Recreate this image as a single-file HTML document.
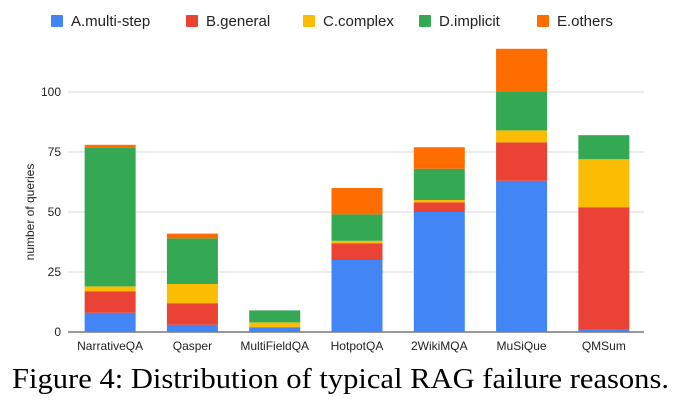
<!DOCTYPE html>
<html><head><meta charset="utf-8"><style>
body{margin:0;background:#fff;width:682px;height:404px;overflow:hidden}
svg text{font-family:"Liberation Sans",Arial,sans-serif}
</style></head><body>
<svg id="chart" width="682" height="404">
<g id="grid"></g><g id="bars"></g><g id="legend"></g><g id="labels"></g>
<text x="34" y="212" font-size="12" fill="#222" text-anchor="middle" transform="rotate(-90 34 212)">number of queries</text>
<text x="12" y="388" font-size="28" fill="#000" textLength="657" lengthAdjust="spacingAndGlyphs" style="font-family:'Liberation Serif',serif">Figure 4: Distribution of typical RAG failure reasons.</text>
</svg>
<script>
const categories=["NarrativeQA","Qasper","MultiFieldQA","HotpotQA","2WikiMQA","MuSiQue","QMSum"];
const seriesNames=["A.multi-step","B.general","C.complex","D.implicit","E.others"];
const multiStep=[8,3,2,30,50,63,1];
const general=[9,9,0,7,4,16,51];
const complex=[2,8,2,1,1,5,20];
const implicit=[58,19,5,11,13,16,10];
const others=[1,2,0,11,9,18,0];
const yTicks=[0,25,50,75,100];
const colors=["#4285f4","#ea4335","#fbbc04","#34a853","#ff6d01"];
const series=[multiStep,general,complex,implicit,others];
const NS="http://www.w3.org/2000/svg";
const x0=68,x1=644,y0=332,yScale=2.4;
const y=v=>y0-v*yScale;
const band=(x1-x0)/categories.length;
const xc=i=>x0+band*(i+0.5)+1;
const bw=51;
function mk(tag,attrs,parent){const e=document.createElementNS(NS,tag);for(const k in attrs)e.setAttribute(k,attrs[k]);parent.appendChild(e);return e;}
const grid=document.getElementById('grid'),bars=document.getElementById('bars'),labels=document.getElementById('labels'),legend=document.getElementById('legend');
yTicks.forEach(t=>{
  if(t>0){const l=mk('line',{x1:x0,x2:x1,y1:y(t),y2:y(t),stroke:'#d9d9d9','stroke-width':1},grid);
  
  }
  const tx=mk('text',{x:61,y:y(t)+4,'font-size':12,fill:'#222','text-anchor':'end'},labels);tx.textContent=t;
  
  
});
categories.forEach((c,i)=>{
  let acc=0;
  series.forEach((s,j)=>{
    const v=s[i];if(v<=0)return;
    const r=mk('rect',{x:xc(i)-bw/2,y:y(acc+v),width:bw,height:v*yScale,fill:colors[j]},bars);
    
    
    acc+=v;
  });
  const tx=mk('text',{x:xc(i),y:350,'font-size':12,fill:'#222','text-anchor':'middle'},labels);tx.textContent=c;
  
  
});
const ax=mk('line',{x1:x0,x2:x1,y1:y0,y2:y0,stroke:'#333','stroke-width':1},grid);


const lx=[51,186,303,419,537];
seriesNames.forEach((n,j)=>{
  const g=mk('g',{},legend);
  
  
  mk('rect',{x:lx[j],y:15,width:12,height:12,rx:1,fill:colors[j]},g);
  const t=mk('text',{x:lx[j]+20,y:26,'font-size':15,fill:'#222'},g);t.textContent=n;
});
</script>
</body></html>
